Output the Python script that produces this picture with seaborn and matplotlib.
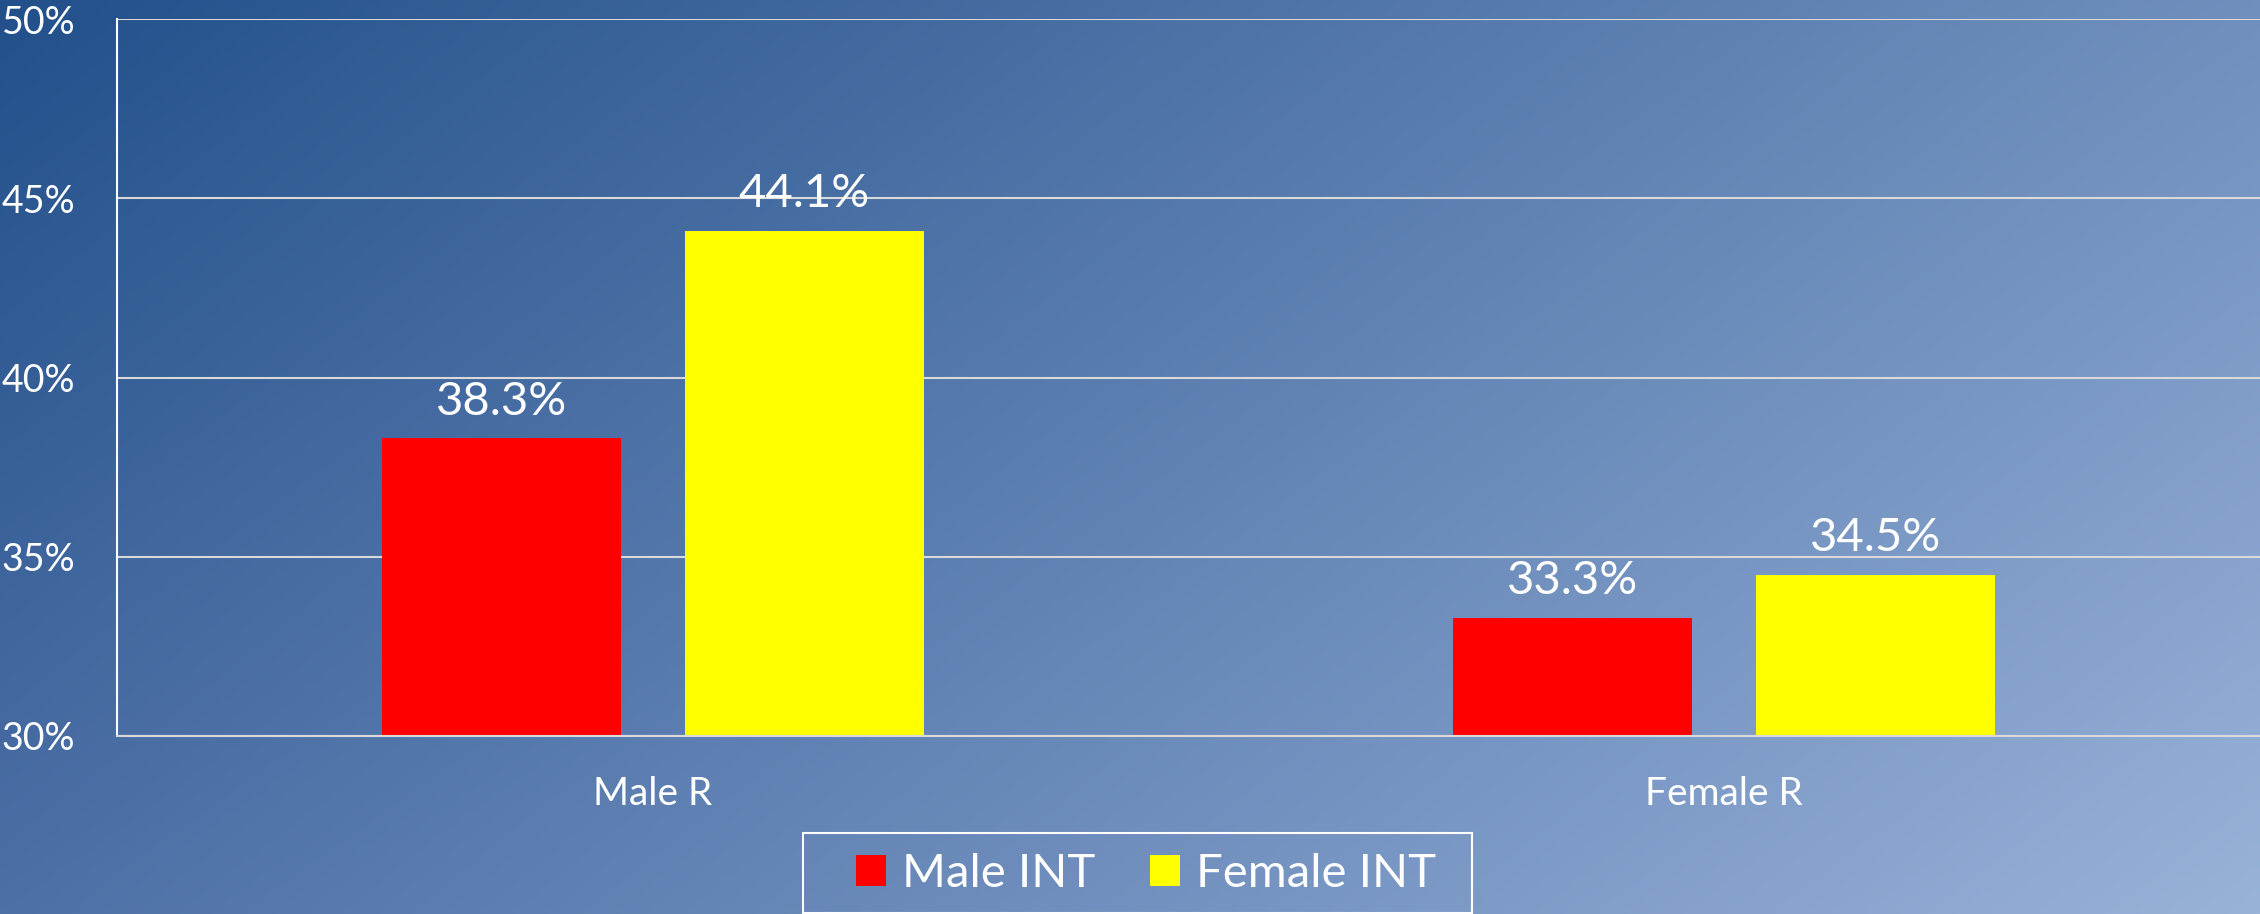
import numpy as np
import pandas as pd
import matplotlib
matplotlib.use("Agg")
import matplotlib.pyplot as plt
from matplotlib.patches import Rectangle
import seaborn as sns

groups = ["Male R", "Female R"]
series = ["Male INT", "Female INT"]
male_int = [38.3, 33.3]
female_int = [44.1, 34.5]
bar_colors = ["#FF0000", "#FFFF00"]
y_ticks = [30, 35, 40, 45, 50]

df = pd.DataFrame({
    "group": groups * 2,
    "series": [series[0]] * len(groups) + [series[1]] * len(groups),
    "value": male_int + female_int,
})

sns.set_theme(style="white")
plt.rcParams["font.family"] = ["Lato", "DejaVu Sans"]

W, H = 2260, 914
fig = plt.figure(figsize=(W / 100, H / 100), dpi=100)

# diagonal blue gradient behind everything
bg = fig.add_axes([0, 0, 1, 1], zorder=-10)
tl = np.array([34, 80, 139]) / 255
tr = np.array([112, 143, 189]) / 255
bl = np.array([77, 112, 166]) / 255
br = np.array([152, 178, 217]) / 255
xx, yy = np.meshgrid(np.linspace(0, 1, 500), np.linspace(0, 1, 200))
xx = xx[..., None]
yy = yy[..., None]
img = tl * (1 - xx) * (1 - yy) + tr * xx * (1 - yy) + bl * (1 - xx) * yy + br * xx * yy
bg.imshow(img, aspect="auto", extent=[0, 1, 0, 1])
bg.axis("off")

ax = fig.add_axes([117 / W, 1 - 736 / H, 1 - 117 / W, (736 - 19) / H])
ax.patch.set_alpha(0)

sns.barplot(data=df, x="group", y="value", hue="series", palette=bar_colors,
            width=0.565, gap=0.21, saturation=1, errorbar=None, linewidth=0, ax=ax)

ax.set_xlim(-0.5, 1.5)
ax.set_ylim(30, 50)
ax.set_yticks(y_ticks)
ax.set_yticklabels([f"{t}%" for t in y_ticks])
ax.set_xlabel("")
ax.set_ylabel("")

ax.yaxis.grid(True, color="#D9D9D9", linewidth=1.5)
ax.set_axisbelow(True)
for s in ["top", "right"]:
    ax.spines[s].set_visible(False)
ax.spines["left"].set_color("white")
ax.spines["left"].set_linewidth(1.5)
ax.spines["bottom"].set_color("#D9D9D9")
ax.spines["bottom"].set_linewidth(1.5)

ax.tick_params(axis="y", length=0, pad=30, labelsize=27, labelcolor="white")
ax.tick_params(axis="x", length=0, pad=29, labelsize=28, labelcolor="white")

for cont, vals in zip(ax.containers, [male_int, female_int]):
    ax.bar_label(cont, labels=[f"{v:.1f}%" for v in vals], padding=11,
                 fontsize=34, color="white")

handles, labels = ax.get_legend_handles_labels()
leg = ax.legend(handles, labels, loc="center",
                bbox_to_anchor=(1146 / W, 1 - 874 / H), bbox_transform=fig.transFigure,
                ncol=2, frameon=False, fontsize=34, labelcolor="white",
                handlelength=0.635, handleheight=0.635, handletextpad=0.34,
                columnspacing=1.14, borderpad=0, borderaxespad=0)

# legend box outline
fig.patches.append(Rectangle((803 / W, 1 - 913 / H), 669 / W, 80 / H,
                             transform=fig.transFigure, fill=False,
                             edgecolor="white", linewidth=1.5))

fig.savefig("out.png", dpi=100)
